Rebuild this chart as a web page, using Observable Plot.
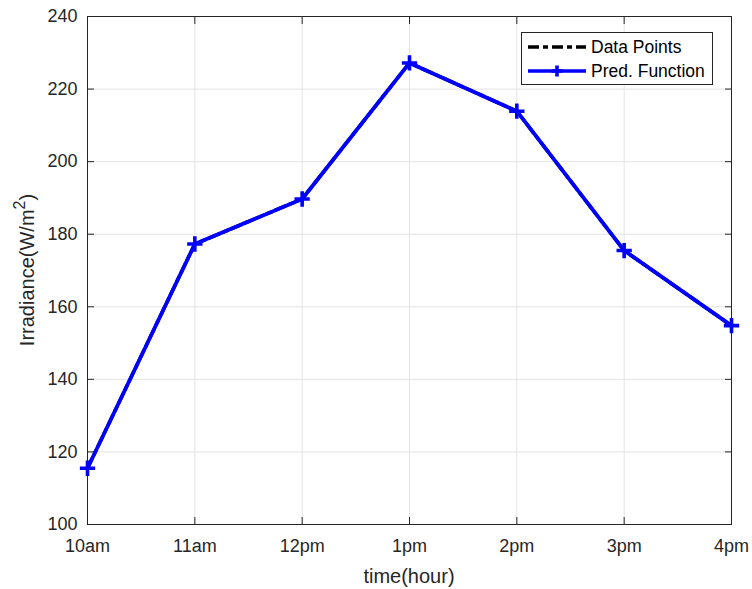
<!DOCTYPE html>
<html>
<head>
<meta charset="utf-8">
<script src="https://cdn.jsdelivr.net/npm/d3@7"></script>
<script src="https://cdn.jsdelivr.net/npm/@observablehq/plot@0.6"></script>
<style>
  html, body { margin: 0; padding: 0; background: #fff; }
  #wrap { position: relative; width: 752px; height: 589px; font-family: "Liberation Sans", Arial, sans-serif; }
  #legend { position: absolute; left: 521px; top: 32px; width: 192px; height: 53px; border: 1px solid #262626; background: #fff; box-sizing: border-box; font-size: 17.5px; color: #000; }
  .row { position: absolute; left: 0; display: flex; align-items: center; }
  .row svg { margin-left: 6px; margin-right: 5px; }
</style>
</head>
<body>
<div id="wrap"></div>
<script>
const hours = [10, 11, 12, 13, 14, 15, 16];
const hourLabels = ["10am", "11am", "12pm", "1pm", "2pm", "3pm", "4pm"];
const dataPoints = [115.5, 177.3, 189.7, 227.2, 213.9, 175.5, 154.8];
const predFunction = [115.5, 177.3, 189.7, 227.2, 213.9, 175.5, 154.8];
const yTicks = [100, 120, 140, 160, 180, 200, 220, 240];
const seriesNames = ["Data Points", "Pred. Function"];

const dataRows = hours.map((h, i) => ({h, v: dataPoints[i]}));
const predRows = hours.map((h, i) => ({h, v: predFunction[i]}));
const labelOf = new Map(hours.map((h, i) => [h, hourLabels[i]]));

const axisColor = "#262626";
const dashDot = "11,4,5,4";
const chart = Plot.plot({
  width: 752,
  height: 589,
  marginLeft: 87,
  marginRight: 21,
  marginTop: 16,
  marginBottom: 65,
  style: {fontFamily: "'Liberation Sans', Arial, sans-serif", fontSize: "18px", color: axisColor, background: "#fff"},
  x: {domain: [10, 16], ticks: hours},
  y: {domain: [100, 240], ticks: yTicks},
  marks: [
    Plot.gridX(hours, {stroke: "#e3e3e3", strokeOpacity: 1}),
    Plot.gridY(yTicks, {stroke: "#e3e3e3", strokeOpacity: 1}),
    Plot.axisX(hours, {tickSize: -7, tickPadding: 22, tickFormat: d => labelOf.get(d), label: null, stroke: axisColor, fill: axisColor, fontSize: 18}),
    Plot.axisX(hours, {anchor: "top", tickSize: -7, tickFormat: () => "", label: null, stroke: axisColor}),
    Plot.axisY(yTicks, {tickSize: -7, tickPadding: 17, label: null, stroke: axisColor, fill: axisColor, fontSize: 18}),
    Plot.axisY(yTicks, {anchor: "right", tickSize: -7, tickFormat: () => "", label: null, stroke: axisColor}),
    Plot.frame({stroke: axisColor, strokeWidth: 1}),
    Plot.line(dataRows, {x: "h", y: "v", stroke: "black", strokeWidth: 3.5, strokeDasharray: dashDot}),
    Plot.line(predRows, {x: "h", y: "v", stroke: "#0000ff", strokeWidth: 3.8}),
    Plot.dot(predRows, {x: "h", y: "v", symbol: "plus", r: 5, stroke: "#0000ff", strokeWidth: 3.6})
  ]
});

const wrap = document.getElementById("wrap");
wrap.appendChild(chart);

// axis titles
const svg = d3.select(chart);
svg.append("text")
  .attr("x", 409).attr("y", 583)
  .attr("text-anchor", "middle")
  .attr("font-size", 20)
  .attr("fill", axisColor)
  .text("time(hour)");
const yl = svg.append("text")
  .attr("transform", "translate(34,270) rotate(-90)")
  .attr("text-anchor", "middle")
  .attr("font-size", 20)
  .attr("fill", axisColor);
yl.append("tspan").text("Irradiance(W/m");
yl.append("tspan").attr("font-size", 16).attr("dy", -9).text("2");
yl.append("tspan").attr("dy", 9).text(")");

// legend
const legend = document.createElement("div");
legend.id = "legend";
const styles = [
  {stroke: "black", dash: dashDot, marker: false},
  {stroke: "#0000ff", dash: null, marker: true}
];
seriesNames.forEach((name, i) => {
  const row = document.createElement("div");
  row.className = "row";
  row.style.top = (i === 0 ? 4 : 28) + "px";
  row.style.height = "20px";
  const s = styles[i];
  row.innerHTML = `<svg width="58" height="20"><line x1="0" x2="58" y1="10" y2="10" stroke="${s.stroke}" stroke-width="3.5" ${s.dash ? `stroke-dasharray="${s.dash}"` : ""}/>${s.marker ? `<path d="M29,4.5V15.5M23.5,10H34.5" stroke="${s.stroke}" stroke-width="3.6"/>` : ""}</svg><span>${name}</span>`;
  legend.appendChild(row);
});
wrap.appendChild(legend);
</script>
</body>
</html>
